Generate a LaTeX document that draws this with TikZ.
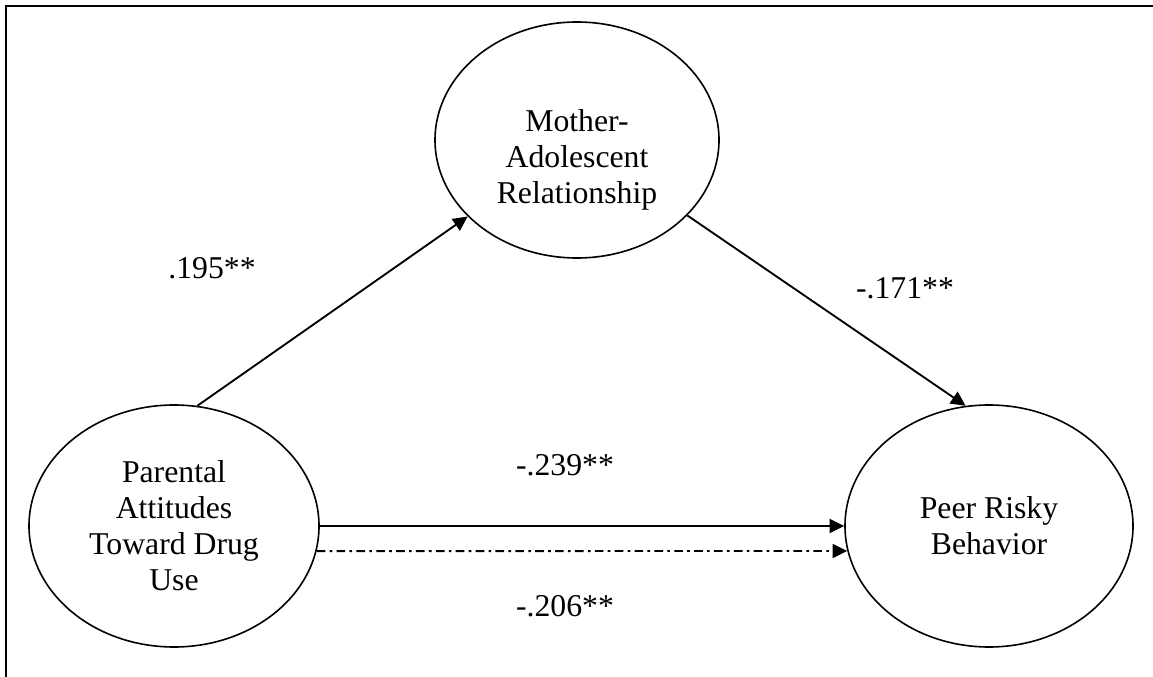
\documentclass[tikz,border=0pt]{standalone}
\usepackage{fontspec}
\setmainfont{Liberation Serif}
\usetikzlibrary{shapes.geometric,arrows.meta}
\begin{document}
\begin{tikzpicture}[x=0.75pt,y=-0.75pt,
  every node/.style={font=\fontsize{23.8}{27}\selectfont},
  construct/.style={draw,ellipse,line width=1.2pt,inner sep=0pt,align=center},
  path/.style={line width=1.4pt,-{Triangle[length=11pt,width=10.5pt]}},
  dashdot/.style={dash pattern=on 6.5pt off 3.2pt on 2pt off 3.2pt},
  coef/.style={inner sep=0pt}]
  \useasboundingbox (0,0) rectangle (1153,677);
  % frame
  \draw[line width=1.6pt] (6,677) -- (6,6) -- (1153,6);
  % constructs
  \node[construct,minimum width=213pt,minimum height=177pt] (mom) at (577,140) {};
  \node[align=center,inner sep=0pt] (momtext) at (577,160)
    {Mother-\\Adolescent\\Relationship};
  \node[construct,minimum width=217.5pt,minimum height=181.5pt] (par) at (174,526)
    {Parental\\Attitudes\\Toward Drug\\Use};
  \node[construct,minimum width=216pt,minimum height=181.5pt] (peer) at (989,526)
    {Peer Risky\\Behavior};
  % paths
  \draw[path] (par.79) -- (mom);
  \draw[path] (mom) -- (peer.101);
  \draw[path] (par.east) -- (peer.west);
  \draw[path,dashdot] (par.-10) -- (peer.190);
  % coefficients
  \node[coef] (a) at (212,268) {.195**};
  \node[coef] (b) at (905,288) {-.171**};
  \node[coef] (c) at (565,465) {-.239**};
  \node[coef] (d) at (565,606) {-.206**};
\end{tikzpicture}
\end{document}
